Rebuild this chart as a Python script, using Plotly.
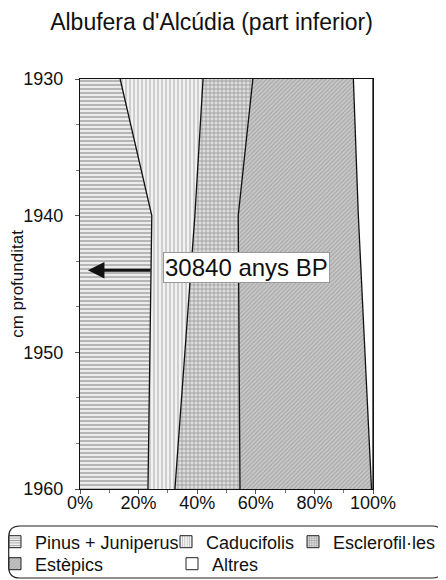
import plotly.graph_objects as go

# ---- data ----
depths = [1930, 1940, 1960]
pinus = [13.7, 24.5, 23.2]
caducifolis = [28.3, 14.7, 9.2]
esclerofilles = [17.0, 14.8, 22.2]
estepics = [34.3, 41.0, 44.9]
altres = [6.7, 5.0, 0.5]
series_names = ["Pinus + Juniperus", "Caducifolis", "Esclerofil·les", "Estèpics", "Altres"]
x_ticks = [0, 20, 40, 60, 80, 100]
x_tick_labels = ["0%", "20%", "40%", "60%", "80%", "100%"]
y_ticks = [1930, 1940, 1950, 1960]
marker_depth = 1943.8
marker_text = "30840 anys BP"

FONT = "Liberation Sans, Arial, sans-serif"

patterns = [
    dict(shape="-", bgcolor="#ececec", fgcolor="#505050", size=4, solidity=0.35),
    dict(shape="|", bgcolor="#f2f2f2", fgcolor="#8a8a8a", size=4, solidity=0.35),
    dict(shape="+", bgcolor="#dcdcdc", fgcolor="#3a3a3a", size=4, solidity=0.3),
    dict(shape="/", bgcolor="#c8c8c8", fgcolor="#858585", size=3, solidity=0.4),
    dict(shape="", bgcolor="#ffffff", fgcolor="#ffffff", size=4, solidity=0.2),
]

# page offset (browser body margin) and figure size
OFF = 8
W, H = 446 - OFF, 580 - OFF
# plot area in page pixels
L, R, T, B = 80, 373, 79, 489
def px(xp):
    return (xp - L) / (R - L)
def py(yp):
    return (B - yp) / (B - T)

fig = go.Figure()
for name, vals, pat in zip(series_names,
                           [pinus, caducifolis, esclerofilles, estepics, altres],
                           patterns):
    fig.add_trace(go.Scatter(
        x=vals, y=depths, name=name, mode="lines",
        stackgroup="one", orientation="h",
        line=dict(color="#111111", width=1.3),
        fillcolor=pat["bgcolor"],
        fillpattern=pat if pat["shape"] else None,
        hoverinfo="skip", showlegend=False,
    ))

# legend entries (one legend per entry so each sits where the reference has it)
legend_ids = ["legend", "legend2", "legend3", "legend4", "legend5"]
legend_text_x = [35, 206, 333, 35, 212]
legend_row_y = [542, 542, 542, 564, 564]
for name, pat, lid in zip(series_names, patterns, legend_ids):
    mpat = dict(shape=pat["shape"], bgcolor=pat["bgcolor"], fgcolor=pat["fgcolor"],
                size=3, solidity=pat["solidity"]) if pat["shape"] else None
    fig.add_trace(go.Bar(
        x=[None], y=[None], orientation="h", name=name, legend=lid,
        marker=dict(color=pat["bgcolor"], pattern=mpat,
                    line=dict(color="#222222", width=1)),
        showlegend=True, hoverinfo="skip",
    ))

legend_layout = {}
for lid, tx, ty in zip(legend_ids, legend_text_x, legend_row_y):
    legend_layout[lid] = dict(
        x=px(tx - 40), xanchor="left", y=py(ty), yanchor="middle",
        orientation="h", itemwidth=30, font=dict(size=18, family=FONT, color="#111111"),
        bgcolor="rgba(0,0,0,0)", borderwidth=0,
    )

# arrow
fig.add_annotation(x=2.7, y=marker_depth + 0.2, ax=24.6, ay=marker_depth + 0.2,
                   xref="x", yref="y", axref="x", ayref="y",
                   text="", showarrow=True, arrowhead=2, arrowsize=1.1,
                   arrowwidth=3, arrowcolor="#111111")
# label box
fig.add_annotation(x=56.7, y=marker_depth, xref="x", yref="y",
                   text=marker_text, showarrow=False,
                   font=dict(size=24, color="#111111", family=FONT),
                   bgcolor="white", bordercolor="#999999", borderwidth=1, borderpad=1)

# rounded legend border
x0, x1, y0, y1, r = 8.7, 443, 526, 578, 11
path = (f"M {px(x0+r)},{py(y0)} L {px(x1-r)},{py(y0)} "
        f"Q {px(x1)},{py(y0)} {px(x1)},{py(y0+r)} "
        f"L {px(x1)},{py(y1-r)} Q {px(x1)},{py(y1)} {px(x1-r)},{py(y1)} "
        f"L {px(x0+r)},{py(y1)} Q {px(x0)},{py(y1)} {px(x0)},{py(y1-r)} "
        f"L {px(x0)},{py(y0+r)} Q {px(x0)},{py(y0)} {px(x0+r)},{py(y0)} Z")
fig.add_shape(type="path", path=path, xref="paper", yref="paper",
              line=dict(color="#222222", width=1.2))

fig.update_layout(
    width=W, height=H,
    margin=dict(l=L - OFF, r=446 - R, t=T - OFF, b=580 - B, autoexpand=False),
    paper_bgcolor="white", plot_bgcolor="white",
    font=dict(family=FONT, size=18, color="#111111"),
    title=dict(text="Albufera d'Alcúdia (part inferior)", x=(211.5 - OFF) / W,
               xanchor="center", y=1 - (22 - OFF) / H, yanchor="middle",
               font=dict(size=23)),
    showlegend=True,
    barmode="stack",
    xaxis=dict(range=[0, 100], tickvals=x_ticks, ticktext=x_tick_labels,
               showgrid=False, zeroline=False, showline=True, linecolor="#111111",
               linewidth=1.2, mirror=True, ticks="outside", ticklen=4,
               tickcolor="#555555", tickfont=dict(size=18), automargin=False,
               ticklabelstandoff=-7,
               minor=dict(dtick=10, ticks="outside", ticklen=3, tickcolor="#777777")),
    yaxis=dict(range=[1960, 1930], tickvals=y_ticks, showgrid=False, zeroline=False,
               showline=True, linecolor="#111111", linewidth=1.2, mirror=True,
               ticks="outside", ticklen=4, tickcolor="#555555", tickfont=dict(size=18),
               ticklabelstandoff=8, automargin=False,
               minor=dict(tickvals=[1933.33, 1936.67, 1943.33, 1946.67, 1953.33, 1956.67],
                          ticks="outside", ticklen=3, tickcolor="#777777"),
               title=dict(text="cm profunditat", font=dict(size=17), standoff=1)),
    **legend_layout,
)

fig.write_html("out.html")
